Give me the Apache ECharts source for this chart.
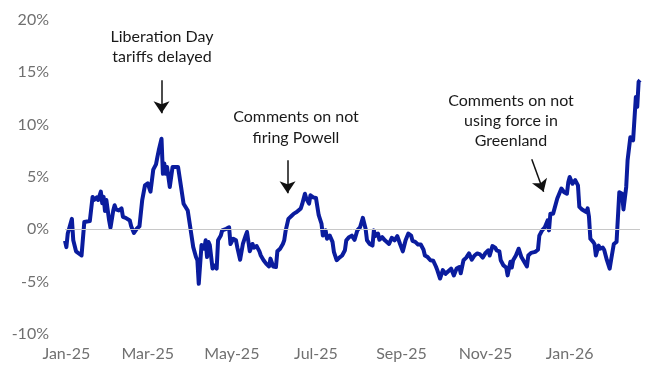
<!DOCTYPE html>
<html>
<head>
<meta charset="utf-8">
<script src="https://cdn.jsdelivr.net/npm/echarts@6/dist/echarts.min.js"></script>
<style>
  html, body { margin: 0; padding: 0; background: #fff; }
  #chart { width: 659px; height: 377px; }
</style>
</head>
<body>
<div id="chart"></div>
<script>
// days since 1 Jan 2025
var days = [
  -1, 0, 1, 4, 5, 7, 11, 12, 13, 14,
  17, 19, 20, 22, 23, 25, 26, 27, 28, 29,
  31, 32, 34, 35, 36, 38, 40, 41, 43, 46,
  47, 49, 51, 53, 55, 56, 57, 59, 60, 61,
  63, 65, 66, 67, 69, 70, 71, 72, 73, 75,
  76, 77, 81, 83, 85, 88, 90, 92, 94, 95,
  96, 98, 99, 100, 101, 102, 103, 104, 106, 107,
  109, 110, 112, 113, 116, 118, 119, 121, 123, 124,
  126, 128, 130, 131, 133, 135, 136, 138, 140, 141,
  143, 145, 147, 148, 150, 152, 153, 155, 157, 158,
  159, 161, 163, 165, 167, 168, 170, 171, 173, 174,
  176, 177, 179, 181, 183, 185, 186, 188, 189, 191,
  193, 194, 196, 198, 200, 202, 203, 205, 207, 209,
  211, 213, 215, 217, 218, 220, 222, 223, 224, 226,
  227, 229, 231, 232, 234, 236, 238, 240, 242, 244,
  246, 248, 250, 251, 253, 255, 257, 259, 260, 262,
  264, 266, 268, 269, 271, 273, 275, 277, 279, 281,
  283, 285, 286, 288, 290, 292, 294, 296, 298, 300,
  302, 304, 306, 307, 309, 311, 312, 314, 315, 317,
  319, 320, 322, 323, 324, 326, 328, 330, 332, 334,
  335, 337, 340, 342, 343, 345, 347, 349, 350, 351,
  353, 354, 356, 357, 359, 361, 363, 364, 365, 367,
  369, 371, 372, 374, 377, 378, 379, 380, 382, 383,
  384, 386, 387, 389, 390, 392, 394, 395, 397, 399,
  400, 401, 403, 404, 406, 407, 409, 411, 413, 414,
  415, 416
];
// % change
var values = [
  -1.1, -1.7, -0.4, 1.0, -1.05, -2.1, -2.5, -2.6, 0.7, 0.55,
  0.8, 3.1, 2.8, 3.05, 2.8, 3.6, 2.5, 3.1, 1.75, 2.8,
  0.85, 0.15, 1.8, 2.3, 1.9, 1.8, 2.0, 1.2, 1.1, 0.85,
  0.3, -0.35, 0.05, 0.3, 2.8, 2.9, 4.2, 4.4, 4.5, 3.6,
  5.7, 6.2, 6.9, 7.55, 8.65, 5.3, 6.3, 5.3, 5.95, 4.05,
  3.9, 5.95, 5.95, 4.2, 2.45, 1.8, 0.05, -1.7, -2.65, -2.95,
  -5.2, -1.5, -1.4, -1.85, -1.05, -2.65, -1.2, -1.5, -3.75, -3.45,
  -3.75, -1.05, -0.6, -0.1, 0.05, 0.2, -1.4, -0.9, -1.05, -1.75,
  -2.9, -1.4, -0.6, -0.25, -2.1, -1.4, -1.75, -1.6, -2.1, -2.5,
  -2.95, -3.3, -3.55, -2.8, -3.55, -3.6, -2.1, -1.85, -1.4, -1.05,
  -0.15, 1.0, 1.25, 1.5, 1.65, 1.55, 2.0, 2.4, 3.4, 2.95,
  2.45, 3.25, 3.05, 3.0, 1.35, 0.55, -0.6, -0.1, -0.9, -0.6,
  -1.2, -2.15, -2.95, -2.7, -2.5, -2.0, -1.05, -0.75, -0.6, -1.0,
  -0.1, 0.2, 1.1, 0.05, -1.05, -1.4, -1.55, -0.1, -0.65, -0.4,
  -1.0, -0.75, -1.05, -0.9, -1.4, -0.8, -1.05, -0.65, -1.4, -2.1,
  -1.05, -0.4, -0.6, -1.1, -1.2, -1.45, -1.45, -1.95, -2.5, -2.65,
  -2.95, -3.0, -3.55, -3.9, -4.7, -3.9, -4.25, -4.0, -3.75, -4.4,
  -3.75, -3.6, -4.2, -2.95, -2.7, -2.3, -2.9, -2.5, -2.3, -2.4,
  -2.7, -2.25, -2.0, -2.5, -1.6, -1.75, -2.0, -2.1, -2.95, -3.45,
  -3.65, -4.4, -3.1, -3.65, -2.95, -2.5, -1.85, -2.65, -3.1, -3.55,
  -2.5, -2.25, -2.15, -1.95, -0.6, -0.1, 0.2, 0.85, -0.1, 1.5,
  1.5, 1.5, 2.95, 3.1, 3.9, 3.55, 3.4, 4.5, 5.0, 4.35,
  4.7, 4.2, 2.15, 1.9, 1.65, 2.0, 1.2, -0.9, -1.2, -1.4,
  -2.5, -1.55, -1.85, -1.75, -1.95, -2.95, -3.75, -2.95, -1.4, -1.2,
  -1.2, 3.55, 3.4, 1.9, 4.05, 6.6, 8.8, 8.5, 12.65, 11.7,
  14.1, 14.25
];

var tickDays = [0, 59, 120, 181, 243, 304, 365];
var tickLabels = ['Jan-25', 'Mar-25', 'May-25', 'Jul-25', 'Sep-25', 'Nov-25', 'Jan-26'];

// annotation arrows: [startDay, startValue, endDay, endValue]
var arrows = [
  [69, 14.25, 69, 11.1],
  [160.4, 6.6, 160.4, 3.45],
  [337.5, 6.7, 346.1, 3.6]
];

var font = 'Lato, "Open Sans", sans-serif';

var chart = echarts.init(document.getElementById('chart'));

chart.setOption({
  animation: false,
  grid: { left: 65, right: 19, top: 20, bottom: 43 },
  xAxis: {
    type: 'value',
    min: -1,
    max: 416,
    axisLine: { show: false },
    axisTick: { show: false },
    splitLine: { show: false },
    axisLabel: {
      customValues: tickDays,
      color: '#707070',
      fontFamily: font,
      fontSize: 16,
      margin: 12,
      formatter: function (v) {
        var i = tickDays.indexOf(v);
        return i >= 0 ? tickLabels[i] : '';
      }
    }
  },
  yAxis: {
    type: 'value',
    min: -10,
    max: 20,
    interval: 5,
    axisLine: { show: false },
    axisTick: { show: false },
    splitLine: { show: false },
    axisLabel: {
      color: '#707070',
      fontFamily: font,
      fontSize: 16,
      margin: 16,
      formatter: '{value}%'
    }
  },
  series: [
    {
      type: 'line',
      data: [],
      z: 1,
      silent: true,
      markLine: {
        silent: true,
        symbol: ['none', 'none'],
        label: { show: false },
        lineStyle: { color: '#c8c8c8', width: 1, type: 'solid' },
        data: [{ yAxis: 0 }]
      }
    },
    {
      type: 'line',
      z: 2,
      showSymbol: false,
      symbol: 'none',
      data: days.map(function (d, i) { return [d, values[i]]; }),
      lineStyle: { color: '#0a1c9e', width: 4, join: 'round' },
      markLine: {
        silent: true,
        symbol: ['none', 'arrow'],
        symbolSize: 12,
        label: { show: false },
        lineStyle: { color: '#111', width: 1.5, type: 'solid' },
        data: arrows.map(function (a) {
          return [{ coord: [a[0], a[1]] }, { coord: [a[2], a[3]] }];
        })
      }
    }
  ],
  graphic: [
    {
      type: 'text',
      x: 162, y: 47,
      style: {
        text: 'Liberation Day\ntariffs delayed',
        textAlign: 'center', textVerticalAlign: 'middle',
        font: '16px ' + font, lineHeight: 20, fill: '#1a1a1a'
      }
    },
    {
      type: 'text',
      x: 296, y: 127,
      style: {
        text: 'Comments on not\nfiring Powell',
        textAlign: 'center', textVerticalAlign: 'middle',
        font: '16px ' + font, lineHeight: 21, fill: '#1a1a1a'
      }
    },
    {
      type: 'text',
      x: 511, y: 121,
      style: {
        text: 'Comments on not\nusing force in\nGreenland',
        textAlign: 'center', textVerticalAlign: 'middle',
        font: '16px ' + font, lineHeight: 20, fill: '#1a1a1a'
      }
    }
  ]
});
</script>
</body>
</html>
